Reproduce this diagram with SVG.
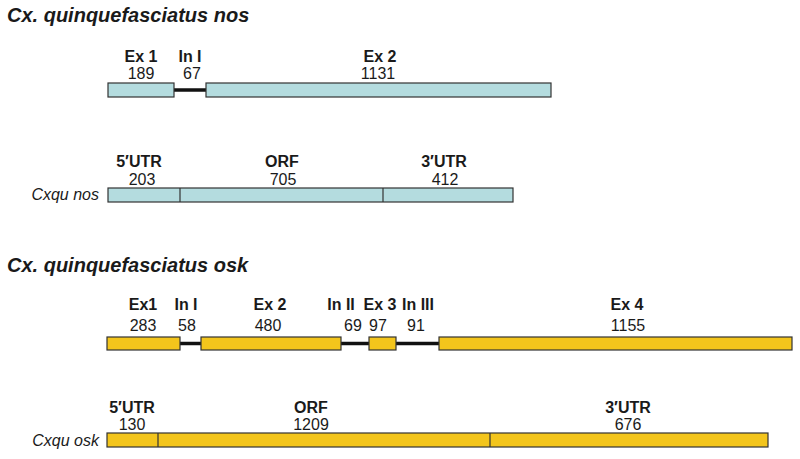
<svg xmlns="http://www.w3.org/2000/svg" width="800" height="459" viewBox="0 0 800 459">
<style>
text{font-family:"Liberation Sans",Arial,sans-serif;fill:#1a1a1a}
.title{font-size:20px;font-weight:bold;font-style:italic}
.lab{font-size:16px;font-weight:bold;text-anchor:middle}
.num{font-size:16px;text-anchor:middle}
.name{font-size:16px;font-style:italic;text-anchor:end}
.nos{fill:#b4dcdf;stroke:#333;stroke-width:1.2}
.osk{fill:#f3c51c;stroke:#333;stroke-width:1.2}
.intron{stroke:#111;stroke-width:3.5}
.div{stroke:#333;stroke-width:1.2}
</style>
<rect width="800" height="459" fill="#fff"/>
<g id="nos-title"><text class="title" x="7" y="22">Cx. quinquefasciatus nos</text></g>
<g id="connectors">
<line class="intron" x1="174" y1="90" x2="206" y2="90"/>
<line class="intron" x1="180" y1="343.5" x2="201" y2="343.5"/>
<line class="intron" x1="341" y1="343.5" x2="369" y2="343.5"/>
<line class="intron" x1="396" y1="343.5" x2="439" y2="343.5"/>
</g>
<g id="nos-ex1"><rect class="nos" x="108" y="83" width="66" height="14"/><text class="lab" x="141" y="62">Ex 1</text><text class="num" x="141" y="79">189</text></g>
<g id="nos-in1"><text class="lab" x="190" y="62">In I</text><text class="num" x="192" y="79">67</text></g>
<g id="nos-ex2"><rect class="nos" x="206" y="83" width="345" height="14"/><text class="lab" x="380" y="62">Ex 2</text><text class="num" x="378" y="79">1131</text></g>
<g id="nos-transcript">
<text class="name" x="99" y="200">Cxqu nos</text>
<rect class="nos" x="108" y="188" width="405" height="14"/>
<line class="div" x1="180" y1="188" x2="180" y2="202"/>
<line class="div" x1="383" y1="188" x2="383" y2="202"/>
<text class="lab" x="139" y="167">5′UTR</text><text class="num" x="142" y="185">203</text>
<text class="lab" x="282" y="167">ORF</text><text class="num" x="283" y="185">705</text>
<text class="lab" x="444" y="167">3′UTR</text><text class="num" x="445" y="185">412</text>
</g>
<g id="osk-title"><text class="title" x="7" y="272">Cx. quinquefasciatus osk</text></g>
<g id="osk-ex1"><rect class="osk" x="107" y="337" width="73" height="13"/><text class="lab" x="143" y="310">Ex1</text><text class="num" x="143" y="331">283</text></g>
<g id="osk-in1"><text class="lab" x="186" y="310">In I</text><text class="num" x="187" y="331">58</text></g>
<g id="osk-ex2"><rect class="osk" x="201" y="337" width="140" height="13"/><text class="lab" x="270" y="310">Ex 2</text><text class="num" x="268" y="331">480</text></g>
<g id="osk-in2"><text class="lab" x="341" y="310">In II</text><text class="num" x="353" y="331">69</text></g>
<g id="osk-ex3"><rect class="osk" x="369" y="337" width="27" height="13"/><text class="lab" x="380" y="310">Ex 3</text><text class="num" x="378" y="331">97</text></g>
<g id="osk-in3"><text class="lab" x="418" y="310">In III</text><text class="num" x="416" y="331">91</text></g>
<g id="osk-ex4"><rect class="osk" x="439" y="337" width="353" height="13"/><text class="lab" x="627" y="310">Ex 4</text><text class="num" x="628" y="331">1155</text></g>
<g id="osk-transcript">
<text class="name" x="99" y="446">Cxqu osk</text>
<rect class="osk" x="107" y="433" width="661" height="14"/>
<line class="div" x1="158" y1="433" x2="158" y2="447"/>
<line class="div" x1="490" y1="433" x2="490" y2="447"/>
<text class="lab" x="132" y="413">5′UTR</text><text class="num" x="132" y="430">130</text>
<text class="lab" x="311" y="413">ORF</text><text class="num" x="311" y="430">1209</text>
<text class="lab" x="628" y="413">3′UTR</text><text class="num" x="628" y="430">676</text>
</g>
</svg>
